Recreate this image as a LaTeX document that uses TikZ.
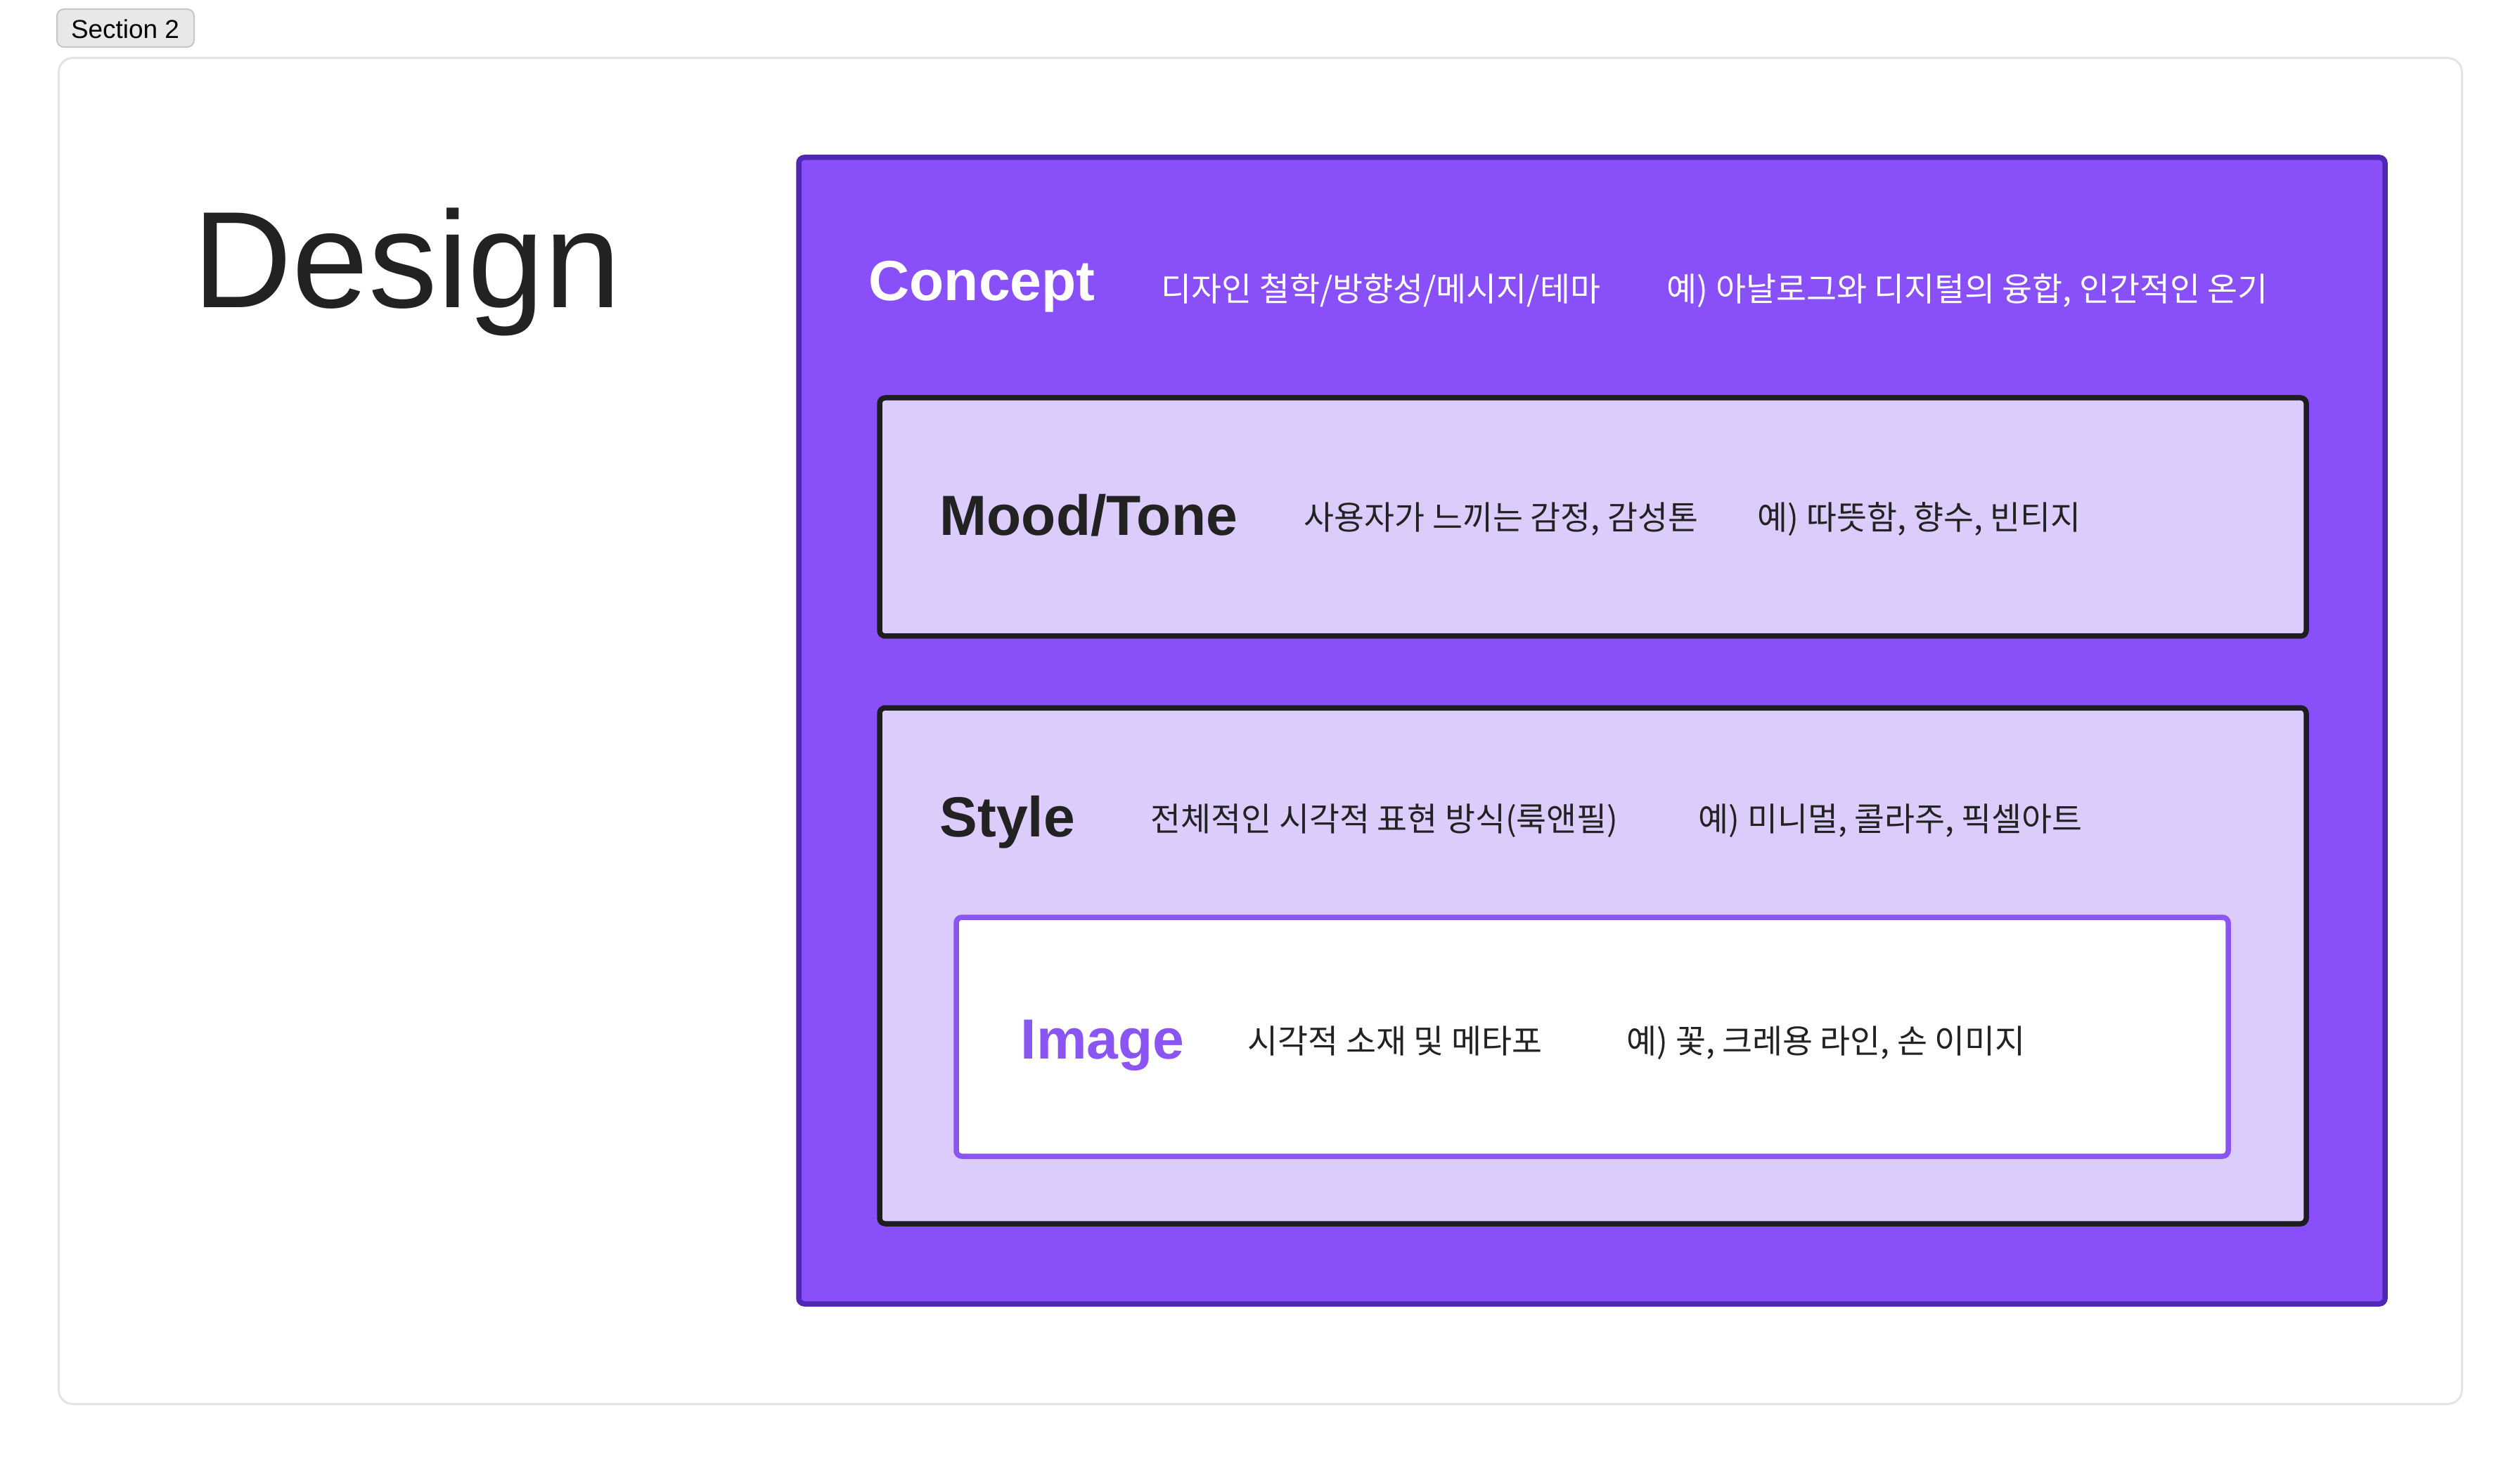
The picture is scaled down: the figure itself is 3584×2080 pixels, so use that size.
\documentclass[tikz,border=0pt]{standalone}
\usepackage{fontspec}
\setmainfont{Liberation Sans}
\newfontfamily\kr{Noto Sans CJK KR}
\usepackage{xcolor}
\definecolor{conceptfill}{HTML}{8950FA}
\definecolor{conceptline}{HTML}{4F27B4}
\definecolor{moodfill}{HTML}{DCCCFC}
\definecolor{darkline}{HTML}{1E1E22}
\definecolor{imgline}{HTML}{8A55F2}
\definecolor{framegray}{HTML}{E4E4E4}
\definecolor{badgefill}{HTML}{E8E8E8}
\definecolor{badgeline}{HTML}{C6C6C6}
\definecolor{ink}{HTML}{222222}

\tikzset{
  titletext/.style={anchor=base west, inner sep=0pt, font=\fontsize{22.9}{27}\selectfont\bfseries},
  desctext/.style={anchor=base west, inner sep=0pt, font=\kr\fontsize{13.3}{16}\selectfont}
}

\begin{document}
\begin{tikzpicture}[x=0.1mm, y=0.1mm]
			\useasboundingbox (0,0) rectangle (3584,-2080);
			\fill[white] (0,0) rectangle (3584,-2080);
			% 标签和外框
			\draw[badgeline, fill=badgefill, line width=0.2mm, rounded corners=1mm] (81,-13) rectangle (276,-67);
			\node[anchor=base, inner sep=0pt, font=\fontsize{10.5}{12}\selectfont, text=black] (badge) at (178,-55) {Section 2};
			\draw[framegray, line width=0.3mm, rounded corners=2mm] (83.5,-82.5) rectangle (3501.5,-1997.5);
			
			% 标题
			\node[anchor=base west, inner sep=0pt, font=\fontsize{55.6}{60}\selectfont, text=ink] (design) at (274,-438) {Design};
			
			% 四层方框
			\draw[conceptline, fill=conceptfill, line width=0.75mm, rounded corners=0.8mm] (1136,-224) rectangle (3392,-1855);
			\draw[darkline, fill=moodfill, line width=0.75mm, rounded corners=0.8mm] (1251,-566) rectangle (3280,-905);
			\draw[darkline, fill=moodfill, line width=0.75mm, rounded corners=0.8mm] (1251,-1007) rectangle (3280,-1741);
			\draw[imgline, fill=white, line width=0.75mm, rounded corners=0.8mm] (1360,-1305) rectangle (3169,-1645);
			
			% Concept
			\node[titletext, text=white] (concept) at (1235,-428) {Concept};
			\node[desctext, text=white] (conceptdesc) at (1651,-429) {디자인 철학/방향성/메시지/테마};
			\node[desctext, text=white] (conceptex) at (2370,-429) {예) 아날로그와 디지털의 융합, 인간적인 온기};
			
			% Mood/Tone
			\node[titletext, text=ink] (mood) at (1336,-762) {Mood/Tone};
			\node[desctext, text=ink] (mooddesc) at (1854,-754) {사용자가 느끼는 감정, 감성톤};
			\node[desctext, text=ink] (moodex) at (2499,-754) {예) 따뜻함, 향수, 빈티지};
			
			% Style
			\node[titletext, text=ink] (style) at (1336,-1190) {Style};
			\node[desctext, text=ink] (styledesc) at (1636,-1182) {전체적인 시각적 표현 방식(룩앤필)};
			\node[desctext, text=ink] (styleex) at (2415,-1182) {예) 미니멀, 콜라주, 픽셀아트};
			
			% Image
			\node[titletext, text=imgline] (image) at (1451,-1506) {Image};
			\node[desctext, text=ink] (imagedesc) at (1774,-1498) {시각적 소재 및 메타포};
			\node[desctext, text=ink] (imageex) at (2313,-1498) {예) 꽃, 크레용 라인, 손 이미지};
		\end{tikzpicture}
\end{document}
